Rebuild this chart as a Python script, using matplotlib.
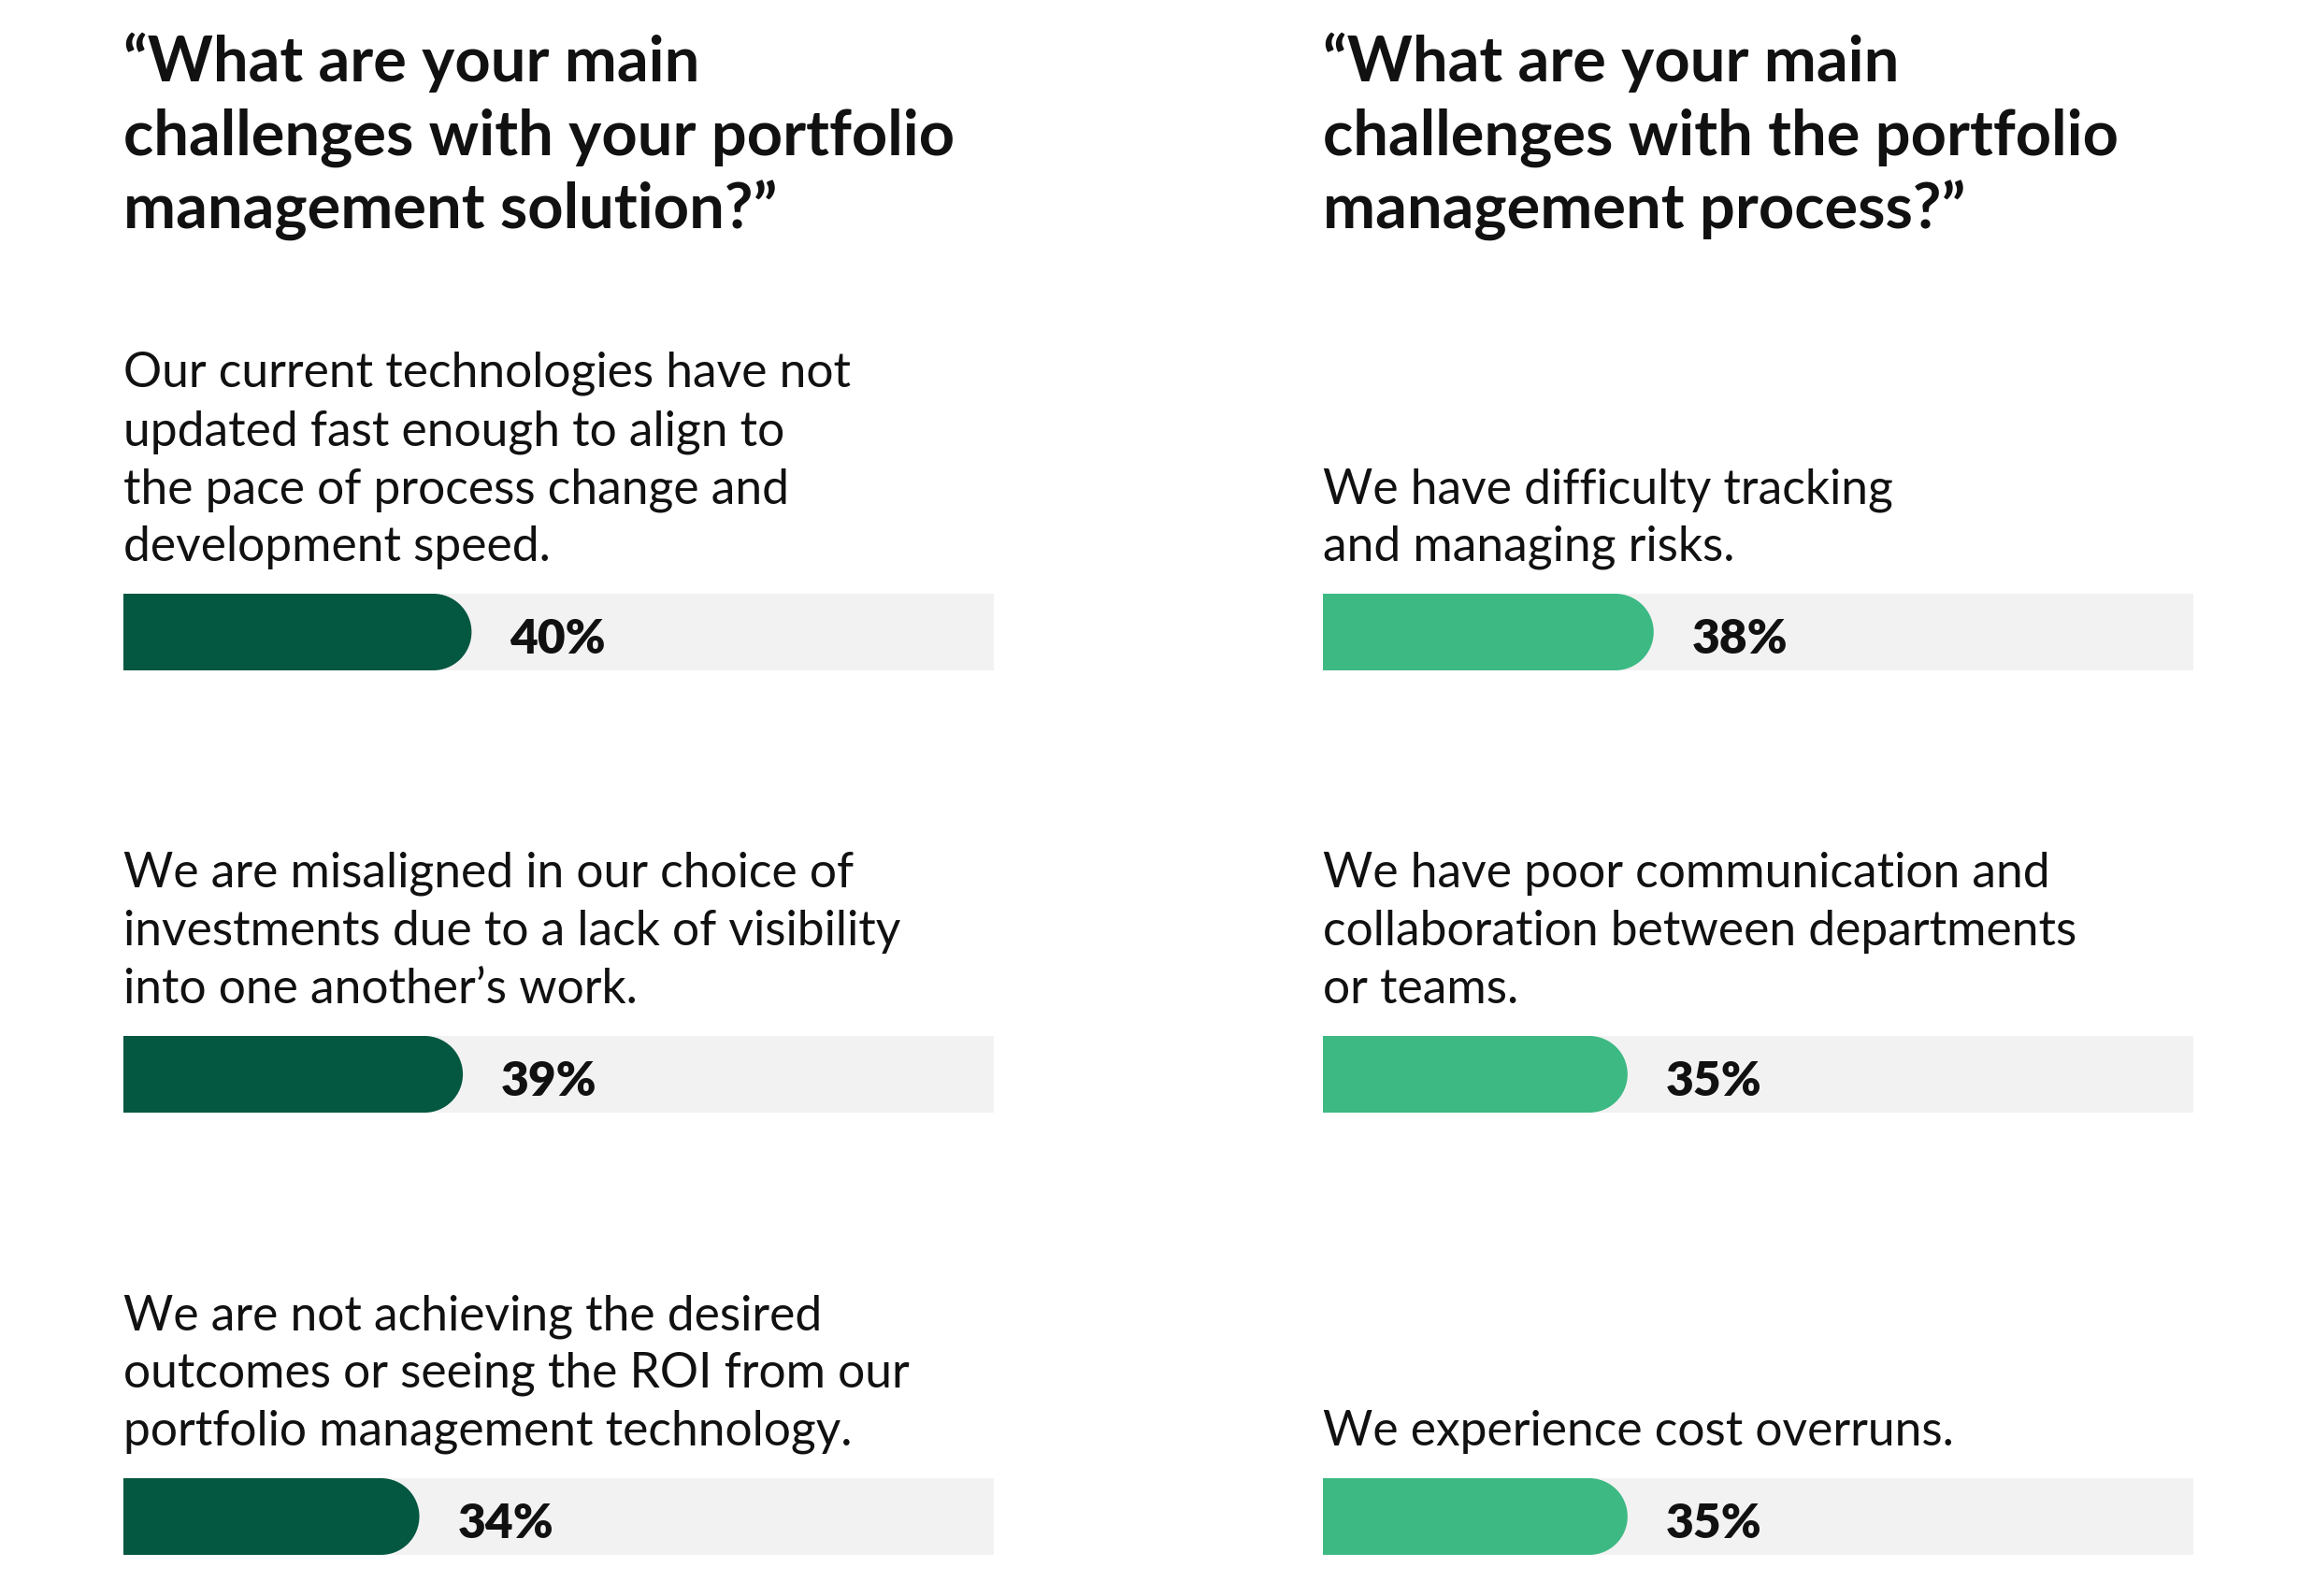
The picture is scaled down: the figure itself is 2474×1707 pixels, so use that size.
import matplotlib.pyplot as plt
from matplotlib.patches import Ellipse

plt.rcParams['font.family'] = ['Lato', 'DejaVu Sans']

left_title = ["\u201cWhat are your main", "challenges with your portfolio", "management solution?\u201d"]
right_title = ["\u201cWhat are your main", "challenges with the portfolio", "management process?\u201d"]

left_items = [
    ["Our current technologies have not", "updated fast enough to align to",
     "the pace of process change and", "development speed."],
    ["We are misaligned in our choice of", "investments due to a lack of visibility",
     "into one another\u2019s work."],
    ["We are not achieving the desired", "outcomes or seeing the ROI from our",
     "portfolio management technology."],
]
left_values = [40, 39, 34]

right_items = [
    ["We have difficulty tracking", "and managing risks."],
    ["We have poor communication and", "collaboration between departments", "or teams."],
    ["We experience cost overruns."],
]
right_values = [38, 35, 35]

DARK = "#045740"
LIGHT = "#3db984"
TRACK = "#f2f2f2"

W, H = 2474, 1708
fig = plt.figure(figsize=(W / 100, H / 100), dpi=100)

col_x = [132, 1415]
track_w = 931
bar_h = 82
bar_tops = [636, 1109, 1582]
title_base = [87, 166, 245]
line_gap = 62


def fx(x):
    return x / W


def fy(y):
    return 1 - y / H


columns = [(left_title, left_items, left_values, DARK),
           (right_title, right_items, right_values, LIGHT)]

for (title, items, values, color), x0 in zip(columns, col_x):
    for line, yb in zip(title, title_base):
        fig.text(fx(x0), fy(yb), line, fontsize=48.1, fontweight="bold",
                 color="#111111", va="baseline", ha="left")

    for lines, value, top in zip(items, values, bar_tops):
        # text block sits right above its bar, last line aligned
        last_base = top - 36
        for k, line in enumerate(reversed(lines)):
            fig.text(fx(x0), fy(last_base - k * line_gap), line, fontsize=37.1,
                     color="#111111", va="baseline", ha="left")

        ax = fig.add_axes([fx(x0), fy(top + bar_h), track_w / W, bar_h / H])
        ax.set_xlim(0, 100)
        ax.set_ylim(0, 1)
        ax.axis("off")
        r = 100 * (bar_h / 2) / track_w
        ax.barh(0.5, 100, height=1, color=TRACK, linewidth=0)
        ax.barh(0.5, value - r, height=1, color=color, linewidth=0)
        ax.add_patch(Ellipse((value - r, 0.5), 2 * r, 1, color=color, linewidth=0))
        ax.text(value + r, 0.41, f"{value}%", fontsize=37, fontweight="heavy",
                color="#111111", va="center", ha="left")

fig.savefig("out.png", dpi=100)
